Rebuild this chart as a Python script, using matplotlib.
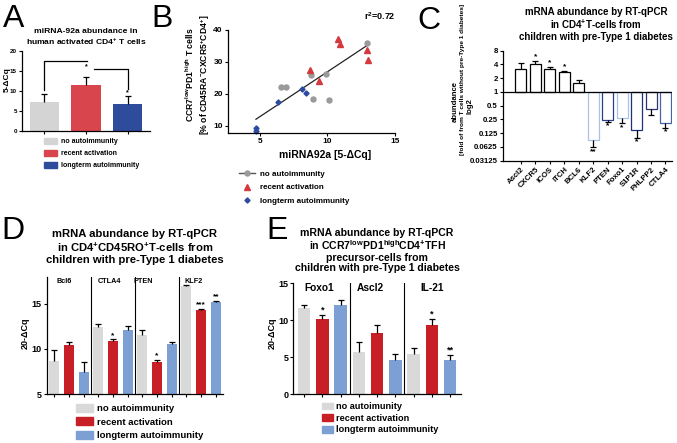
import numpy as np
import matplotlib
matplotlib.use('Agg')
import matplotlib.pyplot as plt
from matplotlib.patches import Patch
from matplotlib.lines import Line2D

plt.rcParams['font.family'] = ['Liberation Sans', 'DejaVu Sans']
plt.rcParams['font.weight'] = 'bold'
plt.rcParams['mathtext.fontset'] = 'custom'
plt.rcParams['mathtext.rm'] = 'Liberation Sans:bold'
plt.rcParams['mathtext.it'] = 'Liberation Sans:bold'
plt.rcParams['mathtext.bf'] = 'Liberation Sans:bold'
plt.rcParams['axes.linewidth'] = 0.9
plt.rcParams['xtick.major.width'] = 0.8
plt.rcParams['ytick.major.width'] = 0.8
plt.rcParams['xtick.major.size'] = 2.2
plt.rcParams['ytick.major.size'] = 2.2
plt.rcParams['xtick.major.pad'] = 1.5
plt.rcParams['ytick.major.pad'] = 1.5

# ---------------- data ----------------
groups = ['no autoimmunity', 'recent activation', 'longterm autoimmunity']

# A: miRNA-92a
a_vals = [7.2, 11.4, 6.8]
a_err = [2.0, 2.0, 2.0]

# B: scatter
b_no_x = [12.9, 8.75, 9.9, 6.55, 6.9, 8.9, 10.1]
b_no_y = [35.8, 25.8, 26.1, 22.2, 22.2, 18.3, 18.1]
b_rec_x = [10.8, 10.9, 12.9, 13.0, 8.7, 9.35]
b_rec_y = [37.2, 35.7, 33.8, 30.6, 27.6, 24.0]
b_long_x = [8.1, 8.4, 6.3, 4.7, 4.7]
b_long_y = [21.7, 20.2, 17.4, 9.3, 8.3]
b_r2 = '0.72'

# C: fold change (log2 axis)
c_genes = ['Ascl2', 'CXCR5', 'ICOS', 'ITCH', 'BCL6', 'KLF2', 'PTEN', 'Foxo1', 'S1P1R', 'PHLPP2', 'CTLA4']
c_fold = [3.15, 4.0, 3.15, 2.7, 1.55, 0.088, 0.243, 0.27, 0.15, 0.415, 0.213]
c_err_end = [4.25, 4.85, 3.5, 2.9, 1.8, 0.061, 0.22, 0.206, 0.098, 0.32, 0.166]
c_stars = ['', '*', '*', '*', '', '**', '*', '*', '*', '', '*']
c_edges = ['black', 'black', 'black', 'black', 'black',
           '#a9c1e3', '#2d3c8e', '#a9c1e3', '#1f2f7c', '#2a3570', '#4a62a8']

# D: CD4+CD45RO+ T cells
d_genes = ['Bcl6', 'CTLA4', 'PTEN', 'KLF2']
d_no = [8.7, 12.4, 11.55, 17.0]
d_no_err = [1.2, 0.4, 0.5, 0.05]
d_rec = [10.45, 10.9, 8.5, 14.33]
d_rec_err = [0.3, 0.15, 0.3, 0.07]
d_long = [7.4, 12.1, 10.5, 15.15]
d_long_err = [1.1, 0.45, 0.25, 0.2]
d_rec_stars = ['', '*', '*', '***']
d_long_stars = ['', '', '', '**']

# E: TFH precursor cells
e_genes = ['Foxo1', 'Ascl2', 'IL-21']
e_no = [11.7, 5.7, 5.4]
e_no_err = [0.4, 1.4, 0.8]
e_rec = [10.2, 8.3, 9.3]
e_rec_err = [0.5, 1.0, 0.9]
e_long = [12.0, 4.55, 4.55]
e_long_err = [0.7, 0.85, 0.75]
e_rec_stars = ['*', '', '*']
e_long_stars = ['', '', '**']

col_a = ['#d4d4d4', '#d9454c', '#2f4b9c']
col_de = ['#d9d9d9', '#c81f27', '#7c9fd4']

W, H = 677, 443
fig = plt.figure(figsize=(W / 100, H / 100), dpi=100)


def box(l, t, r, b):
    return [l / W, 1 - b / H, (r - l) / W, (b - t) / H]


def prism(ax):
    ax.spines['top'].set_visible(False)
    ax.spines['right'].set_visible(False)


def up_err(ax, x, y, e, cap=2.5):
    _, caps, _ = ax.errorbar(x, y, yerr=[np.zeros(len(y)), e], fmt='none',
                             ecolor='black', elinewidth=0.9, capsize=cap, capthick=0.9)
    caps[0].set_visible(False)


def stars(ax, x, y, labels, size, dy):
    for xi, yi, s in zip(x, y, labels):
        if s:
            ax.text(xi, yi + dy, s, ha='center', va='bottom', fontsize=size)


# ================= A =================
axA = fig.add_axes(box(22, 51, 150, 131))
prism(axA)
xa = np.arange(3)
axA.bar(xa, a_vals, width=0.7, color=col_a)
up_err(axA, xa, np.array(a_vals), a_err)
axA.set_xlim(-0.54, 2.54)
axA.set_ylim(0, 20)
axA.set_yticks([0, 5, 10, 15, 20])
axA.set_xticks(xa)
axA.set_xticklabels([])
axA.tick_params(labelsize=4.5)
# significance brackets
axA.plot([0, 0, 1.02], [10.2, 17.5, 17.5], color='black', lw=0.9)
axA.plot([1.2, 2, 2], [15.4, 15.4, 10.6], color='black', lw=0.9)
axA.text(1.02, 15.3, '*', ha='center', va='bottom', fontsize=5)
axA.text(2, 8.6, '*', ha='center', va='bottom', fontsize=5)
axA.set_title('miRNA-92a abundance in\nhuman activated CD4$^{+}$ T cells', fontsize=6.1,
              fontweight='bold', pad=4, linespacing=1.2)
fig.text(7 / W, 1 - 80 / H, '5-ΔCq', rotation=90, ha='center', va='center', fontsize=6)
axA.legend([Patch(color=c) for c in col_a], groups, loc='upper left',
           bbox_to_anchor=(44 / W, 1 - 138 / H), bbox_transform=fig.transFigure,
           frameon=False, fontsize=5, handlelength=1.9, handleheight=1.0,
           labelspacing=0.62, handletextpad=0.6, borderpad=0, borderaxespad=0)

# ================= B =================
axB = fig.add_axes(box(228, 30, 395, 132.7))
prism(axB)
all_x = np.array(b_no_x + b_rec_x + b_long_x)
all_y = np.array(b_no_y + b_rec_y + b_long_y)
k, c0 = np.polyfit(all_x, all_y, 1)
xs = np.array([all_x.min(), all_x.max()])
axB.plot(xs, k * xs + c0, color='#222222', lw=0.9, zorder=1)
axB.plot(b_no_x, b_no_y, 'o', color='#9a9a9a', ms=3.6, zorder=2)
axB.plot(b_rec_x, b_rec_y, '^', color='#d23a3f', ms=3.8, zorder=2)
axB.plot(b_long_x, b_long_y, 'D', color='#2e4a9e', ms=2.6, zorder=2, clip_on=False)
axB.set_xlim(2.63, 15)
axB.set_ylim(7.9, 40)
axB.set_xticks([5, 10, 15])
axB.set_yticks([10, 20, 30, 40])
axB.tick_params(labelsize=6)
axB.text(380 / W, 1 - 16 / H, 'r$^{2}$=' + b_r2, transform=fig.transFigure,
         ha='center', va='center', fontsize=6.5)
fig.text(325 / W, 1 - 155 / H, 'miRNA92a [5-ΔCq]', ha='center', va='center', fontsize=7.5)
fig.text(198 / W, 1 - 75 / H,
         'CCR7$^{low}$PD1$^{high}$ T cells\n[% of CD45RA$^{-}$CXCR5$^{+}$CD4$^{+}$]',
         rotation=90, ha='center', va='center', fontsize=6.2, linespacing=1.25)
b_handles = [Line2D([0], [0], color='#555555', lw=1, marker='o', mfc='#9a9a9a', mec='#9a9a9a', ms=3.6),
             Line2D([0], [0], ls='none', marker='^', color='#d23a3f', ms=3.8),
             Line2D([0], [0], ls='none', marker='D', color='#2e4a9e', ms=2.6)]
axB.legend(b_handles, groups, loc='upper left',
           bbox_to_anchor=(239 / W, 1 - 170 / H), bbox_transform=fig.transFigure,
           frameon=False, fontsize=5.8, handlelength=2.0, labelspacing=0.75,
           handletextpad=0.6, borderpad=0, borderaxespad=0)

# ================= C =================
axC = fig.add_axes(box(503, 50.7, 671.7, 160.7))
prism(axC)
axC.set_yscale('log', base=2)
xc = np.arange(len(c_genes))
fold = np.array(c_fold)
axC.bar(xc, fold - 1, bottom=1, width=0.76, color='white', edgecolor=c_edges, lw=0.9, zorder=2)
up = fold > 1
err_end = np.array(c_err_end)
_, caps, _ = axC.errorbar(xc[up], fold[up], yerr=[np.zeros(up.sum()), err_end[up] - fold[up]],
                          fmt='none', ecolor='black', elinewidth=0.9, capsize=2.2, capthick=0.9, zorder=3)
caps[0].set_visible(False)
dn = ~up
_, caps, _ = axC.errorbar(xc[dn], fold[dn], yerr=[fold[dn] - err_end[dn], np.zeros(dn.sum())],
                          fmt='none', ecolor='black', elinewidth=0.9, capsize=2.2, capthick=0.9, zorder=3)
caps[1].set_visible(False)
for xi, v, e, s in zip(xc, fold, err_end, c_stars):
    if s and v > 1:
        axC.text(xi, e * 1.02, s, ha='center', va='bottom', fontsize=6)
    elif s:
        axC.text(xi, e * 0.97, s, ha='center', va='top', fontsize=6)
axC.axhline(1, color='black', lw=0.9, zorder=4)
c_ticks = [0.03125, 0.0625, 0.125, 0.25, 0.5, 1, 2, 4, 8]
axC.set_yticks(c_ticks)
axC.set_yticklabels(['0.03125', '0.0625', '0.125', '0.25', '0.5', '1', '2', '4', '8'])
axC.minorticks_off()
axC.set_ylim(0.03125, 8)
axC.set_xlim(-1.23, 10.43)
axC.set_xticks(xc)
axC.set_xticklabels(c_genes, rotation=45, ha='right', rotation_mode='anchor')
axC.tick_params(labelsize=5.6)
axC.set_title('mRNA abundance by RT-qPCR\nin CD4$^{+}$T-cells from\nchildren with pre-Type 1 diabetes',
              fontsize=7.0, fontweight='bold', pad=8, linespacing=1.05, x=0.55)
fig.text(455 / W, 1 - 101 / H, 'abundance', rotation=90, ha='center', va='center', fontsize=5.6)
fold_lbl = fig.text(462.5 / W, 1 - 79 / H, '[fold of from T cells without pre-Type 1 diabetes]',
                    rotation=90, ha='center', va='center', fontsize=5.4)
fig.text(470 / W, 1 - 106 / H, 'log2', rotation=90, ha='center', va='center', fontsize=5.6)
# shrink the long label so it spans about 150 px like the reference
fig.canvas.draw()
span = fold_lbl.get_window_extent().height
fold_lbl.set_fontsize(5.4 * 150 / span)


# ================= D and E =================
def grouped(ax, genes, no, no_e, rec, rec_e, lng, lng_e, rec_s, lng_s, gx, gsize, ssize):
    prism(ax)
    xg = np.arange(len(genes)) * 3
    for j, (v, e, c) in enumerate([(no, no_e, col_de[0]), (rec, rec_e, col_de[1]), (lng, lng_e, col_de[2])]):
        ax.bar(xg + j, v, width=0.68, color=c)
        up_err(ax, xg + j, np.array(v), e, cap=2.5)
    stars(ax, xg + 1, np.array(rec) + np.array(rec_e), rec_s, ssize, 0.05)
    stars(ax, xg + 2, np.array(lng) + np.array(lng_e), lng_s, ssize, 0.05)
    for s in xg[1:] - 0.5:
        ax.axvline(s, color='black', lw=0.8)
    for xi, g in zip(gx, genes):
        ax.text(xi, 0.957, g, transform=ax.get_xaxis_transform(), ha='center', va='center',
                fontsize=gsize)
    ax.set_xticks(np.arange(len(genes) * 3))
    ax.set_xticklabels([])


axD = fig.add_axes(box(46.7, 276.7, 223, 394))
grouped(axD, d_genes, d_no, d_no_err, d_rec, d_rec_err, d_long, d_long_err,
        d_rec_stars, d_long_stars, [0.69, 3.77, 6.06, 9.52], 5.2, 6)
axD.set_xlim(-0.52, 11.49)
axD.set_ylim(5, 18)
axD.set_yticks([5, 10, 15])
axD.tick_params(labelsize=6.5)
axD.set_title('mRNA abundance by RT-qPCR\nin CD4$^{+}$CD45RO$^{+}$T-cells from\nchildren with pre-Type 1 diabetes',
              fontsize=8.1, fontweight='bold', pad=10, linespacing=1.15)
fig.text(25 / W, 1 - 333 / H, '20-ΔCq', rotation=90, ha='center', va='center', fontsize=6.5)
axD.legend([Patch(color=c) for c in col_de], groups, loc='upper left',
           bbox_to_anchor=(76 / W, 1 - 404 / H), bbox_transform=fig.transFigure,
           frameon=False, fontsize=6.8, handlelength=1.85, handleheight=0.9,
           labelspacing=0.45, handletextpad=0.4, borderpad=0, borderaxespad=0)

axE = fig.add_axes(box(293.3, 283.3, 461, 394))
grouped(axE, e_genes, e_no, e_no_err, e_rec, e_rec_err, e_long, e_long_err,
        e_rec_stars, e_long_stars, [0.8, 3.6, 7.0], 7.3, 6.5)
axE.set_xlim(-0.6, 8.6)
axE.set_ylim(0, 15)
axE.set_yticks([0, 5, 10, 15])
axE.tick_params(labelsize=6.5)
axE.set_title('mRNA abundance by RT-qPCR\nin CCR7$^{low}$PD1$^{high}$CD4$^{+}$TFH\nprecursor-cells from\nchildren with pre-Type 1 diabetes',
              fontsize=7.6, fontweight='bold', pad=9, linespacing=1.02)
fig.text(272 / W, 1 - 333 / H, '20-ΔCq', rotation=90, ha='center', va='center', fontsize=6.5)
axE.legend([Patch(color=c) for c in col_de], ['no autoimunity', 'recent activation', 'longterm autoimmunity'],
           loc='upper left', bbox_to_anchor=(322 / W, 1 - 402 / H), bbox_transform=fig.transFigure,
           frameon=False, fontsize=6.6, handlelength=1.15, handleheight=0.7,
           labelspacing=0.3, handletextpad=0.4, borderpad=0, borderaxespad=0)

# panel letters
for lab, x, y in [('A', 3, 4), ('B', 151, 4), ('C', 417, 6), ('D', 1, 216), ('E', 266, 216)]:
    fig.text(x / W, 1 - y / H, lab, fontsize=23, fontweight='normal', ha='left', va='top')

fig.savefig('out.png', dpi=100, facecolor='white')
